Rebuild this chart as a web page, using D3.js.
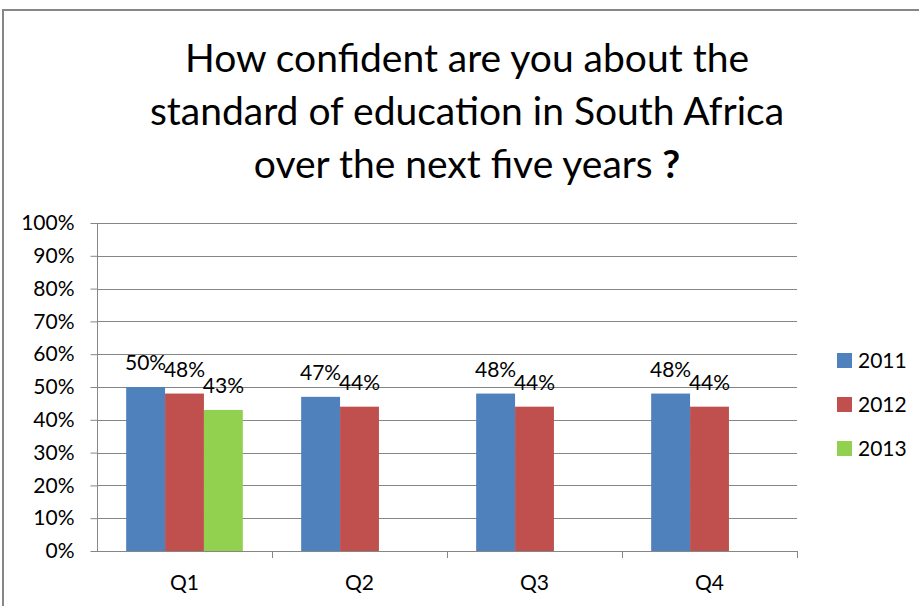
<!DOCTYPE html>
<html>
<head>
  <script src="https://d3js.org/d3.v7.min.js"></script>
  <style>
    body { margin: 0; background: #fff; }
    text { font-family: Lato, "Open Sans", sans-serif; fill: #000; }
  </style>
</head>
<body>
  <svg id="chart" width="919" height="606"></svg>
  <script>
    // chart data
    const quarters = ['Q1', 'Q2', 'Q3', 'Q4'];
    const years = ['2011', '2012', '2013'];
    const values2011 = [50, 47, 48, 48];
    const values2012 = [48, 44, 44, 44];
    const values2013 = [43, null, null, null];
    const yTicks = [0, 10, 20, 30, 40, 50, 60, 70, 80, 90, 100];
    const colors = ['#4F81BD', '#C0504D', '#92D050'];
    const titleLines = ['How confident are you about the', 'standard of education in South Africa', 'over the next five years'];

    const series = [values2011, values2012, values2013];
    const smallFont = '21px';

    const svg = d3.select('#chart');

    // outer frame
    svg.append('rect')
      .attr('x', 3).attr('y', 10)
      .attr('width', 930).attr('height', 620)
      .attr('fill', 'none')
      .attr('stroke', '#868686')
      .attr('stroke-width', 2);

    // title
    const title = svg.append('text')
      .attr('text-anchor', 'middle')
      .style('font-size', '39px');
    titleLines.forEach((line, i) => {
      title.append('tspan')
        .attr('x', 467)
        .attr('y', 72 + i * 53)
        .text(line);
      if (i === titleLines.length - 1) {
        title.append('tspan').text(' ?').style('font-weight', 'bold');
      }
    });

    const margin = { left: 97, top: 223, right: 797, bottom: 551 };

    const x = d3.scaleBand()
      .domain(quarters)
      .range([margin.left, margin.right]);

    const barW = x.bandwidth() / (years.length + 1.5);
    const xInner = d3.scaleBand()
      .domain(years)
      .range([0, barW * years.length]);

    const y = d3.scaleLinear()
      .domain([0, 100])
      .range([margin.bottom, margin.top]);

    // gridlines
    svg.append('g')
      .selectAll('line')
      .data(yTicks.slice(1))
      .enter()
      .append('line')
      .attr('x1', margin.left).attr('x2', margin.right)
      .attr('y1', d => Math.round(y(d)) + 0.5)
      .attr('y2', d => Math.round(y(d)) + 0.5)
      .attr('stroke', '#868686')
      .attr('stroke-width', 1);

    // y axis
    const yAxis = svg.append('g')
      .attr('transform', `translate(${margin.left + 0.5},0)`)
      .call(d3.axisLeft(y).tickValues(yTicks).tickFormat(d => d + '%').tickSize(7).tickPadding(16));
    yAxis.selectAll('line, path').attr('stroke', '#868686');
    yAxis.select('.domain').attr('d', `M0,${margin.top}V${margin.bottom}`);
    yAxis.selectAll('text')
      .style('font-size', smallFont)
      .style('font-family', 'Lato, sans-serif');

    // bars
    series.forEach((vals, si) => {
      const pts = quarters.map((q, i) => ({ q: q, v: vals[i] })).filter(d => d.v !== null);

      svg.append('g')
        .selectAll('rect')
        .data(pts)
        .enter()
        .append('rect')
        .attr('x', d => x(d.q) + barW * 0.75 + xInner(years[si]))
        .attr('width', barW)
        .attr('y', d => y(d.v))
        .attr('height', d => y(0) - y(d.v))
        .attr('fill', colors[si]);

      svg.append('g')
        .selectAll('text')
        .data(pts)
        .enter()
        .append('text')
        .attr('x', d => x(d.q) + barW * 0.75 + xInner(years[si]) + barW / 2)
        .attr('y', d => y(d.v) - 17)
        .attr('text-anchor', 'middle')
        .style('font-size', smallFont)
        .text(d => d.v + '%');
    });

    // x axis
    const xAxis = svg.append('g')
      .attr('transform', `translate(0,${margin.bottom + 0.5})`)
      .call(d3.axisBottom(x).tickSize(0).tickPadding(24));
    xAxis.select('.domain').attr('stroke', '#868686')
      .attr('d', `M${margin.left},0H${margin.right}`);
    xAxis.selectAll('text')
      .style('font-size', smallFont)
      .style('font-family', 'Lato, sans-serif');

    // category ticks between groups
    svg.append('g')
      .selectAll('line')
      .data(quarters)
      .enter()
      .append('line')
      .attr('x1', (d, i) => Math.round(margin.left + x.step() * (i + 1)) + 0.5)
      .attr('x2', (d, i) => Math.round(margin.left + x.step() * (i + 1)) + 0.5)
      .attr('y1', margin.bottom)
      .attr('y2', margin.bottom + 7)
      .attr('stroke', '#868686');

    // legend
    const legend = svg.append('g')
      .selectAll('g')
      .data(years)
      .enter()
      .append('g')
      .attr('transform', (d, i) => `translate(837,${353 + i * 44})`);
    legend.append('rect')
      .attr('width', 15).attr('height', 15)
      .attr('fill', (d, i) => colors[i]);
    legend.append('text')
      .attr('x', 21).attr('y', 15)
      .style('font-size', smallFont)
      .text(d => d);
  </script>
</body>
</html>
